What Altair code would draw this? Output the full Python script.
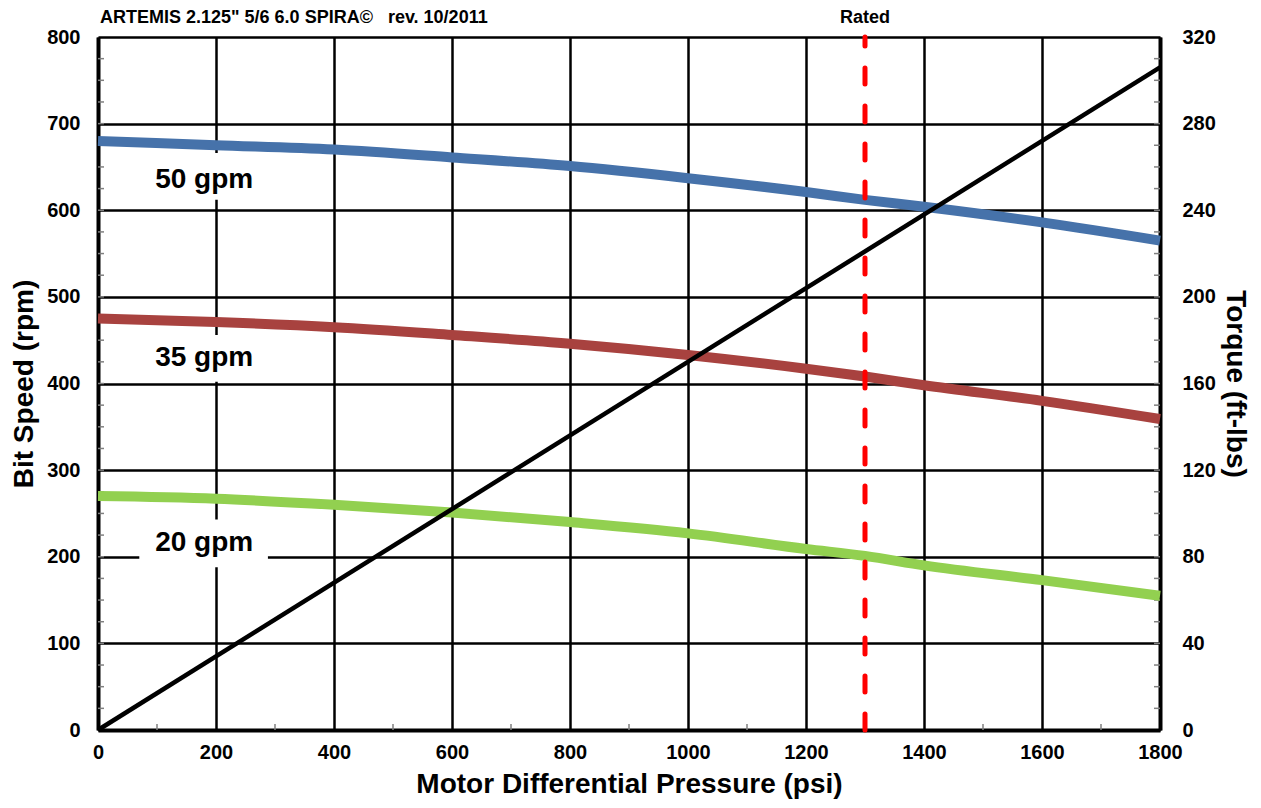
import altair as alt
import pandas as pd

# ---------------- data ----------------
pressure = [0, 200, 400, 600, 800, 1000, 1200, 1300, 1400, 1600, 1800]
rpm_50 = [680, 675, 670, 661, 651, 637, 621, 612, 604, 586, 565]
rpm_35 = [475, 471, 465, 456, 446, 433, 417, 408, 398, 380, 359]
rpm_20 = [270, 267, 260, 251, 240, 227, 209, 201, 190, 173, 155]
series_names = ["50 gpm", "35 gpm", "20 gpm"]
series_colors = ["#4672AA", "#A8423F", "#92D050"]

torque_psi = [0, 1800]
torque_ftlbs = [0, 306]

rated_psi = [1300]

label_text = ["50 gpm", "35 gpm", "20 gpm"]
label_psi = [180, 180, 180]
label_rpm = [635, 429, 216]
box_psi_lo = [70, 70, 70]
box_psi_hi = [288, 288, 288]
box_rpm_lo = [612, 402, 188]
box_rpm_hi = [666, 456, 243]

x_ticks = [0, 200, 400, 600, 800, 1000, 1200, 1400, 1600, 1800]
y_left_ticks = [0, 100, 200, 300, 400, 500, 600, 700, 800]
y_right_ticks = [0, 40, 80, 120, 160, 200, 240, 280, 320]
x_minor = [100, 300, 500, 700, 900, 1100, 1300, 1500, 1700]
y_minor = list(range(25, 800, 25))

title_main = "ARTEMIS 2.125\" 5/6 6.0 SPIRA\u00a9\u00a0\u00a0\u00a0rev. 10/2011"

# ---------------- tables ----------------
rows = []
for name, vals in zip(series_names, [rpm_50, rpm_35, rpm_20]):
    for p, v in zip(pressure, vals):
        rows.append({"psi": p, "rpm": v, "series": name})
df_lines = pd.DataFrame(rows)
df_torque = pd.DataFrame({"psi": torque_psi, "torque": torque_ftlbs})
df_rated = pd.DataFrame({"psi": rated_psi, "label": ["Rated"]})
df_labels = pd.DataFrame({"text": label_text, "psi": label_psi, "rpm": label_rpm,
                          "x1": box_psi_lo, "x2": box_psi_hi,
                          "y1": box_rpm_lo, "y2": box_rpm_hi})
df_xminor = pd.DataFrame({"psi": x_minor})
df_yminor = pd.DataFrame({"rpm": y_minor})
df_title = pd.DataFrame({"t": [title_main]})

FONT = "Liberation Sans, Arial, sans-serif"
W, H = 1062, 693

xscale = alt.Scale(domain=[0, 1800], nice=False, zero=False)
rpm_scale = alt.Scale(domain=[0, 800], nice=False, zero=False)
tq_scale = alt.Scale(domain=[0, 320], nice=False, zero=False)

x_axis = alt.Axis(values=x_ticks, format="d", grid=True, gridColor="black", gridWidth=2.5, gridOpacity=1,
                  domain=True, domainColor="black", domainWidth=4, ticks=False,
                  labelFont=FONT, labelFontSize=20, labelFontWeight="bold", labelColor="black",
                  labelPadding=12, labelFlush=False, labelOverlap=False,
                  title="Motor Differential Pressure (psi)", titleFont=FONT, titleFontSize=28,
                  titleFontWeight="bold", titleColor="black", titlePadding=8, orient="bottom")
left_axis = alt.Axis(values=y_left_ticks, format="d", grid=True, gridColor="black", gridWidth=2.5,
                     gridOpacity=1, domain=True, domainColor="black", domainWidth=4, ticks=False,
                     labelFont=FONT, labelFontSize=20, labelFontWeight="bold", labelColor="black",
                     labelPadding=18, labelFlush=False, labelOverlap=False,
                     title="Bit Speed (rpm)", titleFont=FONT, titleFontSize=28,
                     titleFontWeight="bold", titleColor="black", titlePadding=8, orient="left")
right_axis = alt.Axis(values=y_right_ticks, format="d", grid=False,
                      domain=True, domainColor="black", domainWidth=4, ticks=False,
                      labelFont=FONT, labelFontSize=20, labelFontWeight="bold", labelColor="black",
                      labelPadding=22, labelFlush=False, labelOverlap=False,
                      title="Torque (ft-lbs)", titleFont=FONT, titleFontSize=28,
                      titleFontWeight="bold", titleColor="black", titlePadding=5, orient="right")

# every layer carries the same axis definitions so they merge cleanly
XA = alt.X("psi:Q", scale=xscale, axis=x_axis)
YA = alt.Y("rpm:Q", scale=rpm_scale, axis=left_axis)

lines = alt.Chart(df_lines).mark_line(strokeWidth=10, interpolate="monotone").encode(
    x=XA, y=YA,
    color=alt.Color("series:N", scale=alt.Scale(domain=series_names, range=series_colors), legend=None),
)

minor_x = alt.Chart(df_xminor).mark_rule(color="#808080", strokeWidth=1.5).encode(
    x=XA, y=alt.value(H - 6), y2=alt.value(H))
minor_yl = alt.Chart(df_yminor).mark_rule(color="#808080", strokeWidth=1.5).encode(
    y=YA, x=alt.value(0), x2=alt.value(6))
minor_yr = alt.Chart(df_yminor).mark_rule(color="#808080", strokeWidth=1.5).encode(
    y=YA, x=alt.value(W - 6), x2=alt.value(W))

boxes = alt.Chart(df_labels).mark_rect(color="white").encode(
    x=alt.X("x1:Q", scale=xscale, axis=x_axis), x2="x2:Q",
    y=alt.Y("y1:Q", scale=rpm_scale, axis=left_axis), y2="y2:Q")

texts = alt.Chart(df_labels).mark_text(font=FONT, fontSize=28, fontWeight="bold",
                                       color="black", align="center", baseline="middle").encode(
    x=XA, y=YA, text="text:N")

rpm_layers = alt.layer(minor_x, minor_yl, minor_yr, boxes, texts, lines)

torque = alt.Chart(df_torque).mark_line(color="black", strokeWidth=4.5).encode(
    x=XA, y=alt.Y("torque:Q", scale=tq_scale, axis=right_axis))

rated = alt.Chart(df_rated).mark_rule(color="#FF0000", strokeWidth=5, strokeDash=[16, 22],
                                      strokeCap="round", strokeDashOffset=7).encode(x=XA)
rated_txt = alt.Chart(df_rated).mark_text(font=FONT, fontSize=18, fontWeight="bold", color="black",
                                          baseline="alphabetic").encode(
    x=XA, y=alt.value(-14), text="label:N")
title_txt = alt.Chart(df_title).mark_text(font=FONT, fontSize=18, fontWeight="bold", color="black",
                                          align="left", baseline="alphabetic").encode(
    x=alt.value(2), y=alt.value(-14), text="t:N")

chart = alt.layer(rpm_layers, torque, rated, rated_txt, title_txt).resolve_scale(
    y="independent"
).properties(
    width=W, height=H,
    autosize=alt.AutoSizeParams(type="none"),
    padding={"left": 90, "top": 29, "right": 92, "bottom": 70},
).configure_view(stroke="black", strokeWidth=4).configure(background="white")

chart.save("out.html", embed_options={"renderer": "svg", "actions": False})
